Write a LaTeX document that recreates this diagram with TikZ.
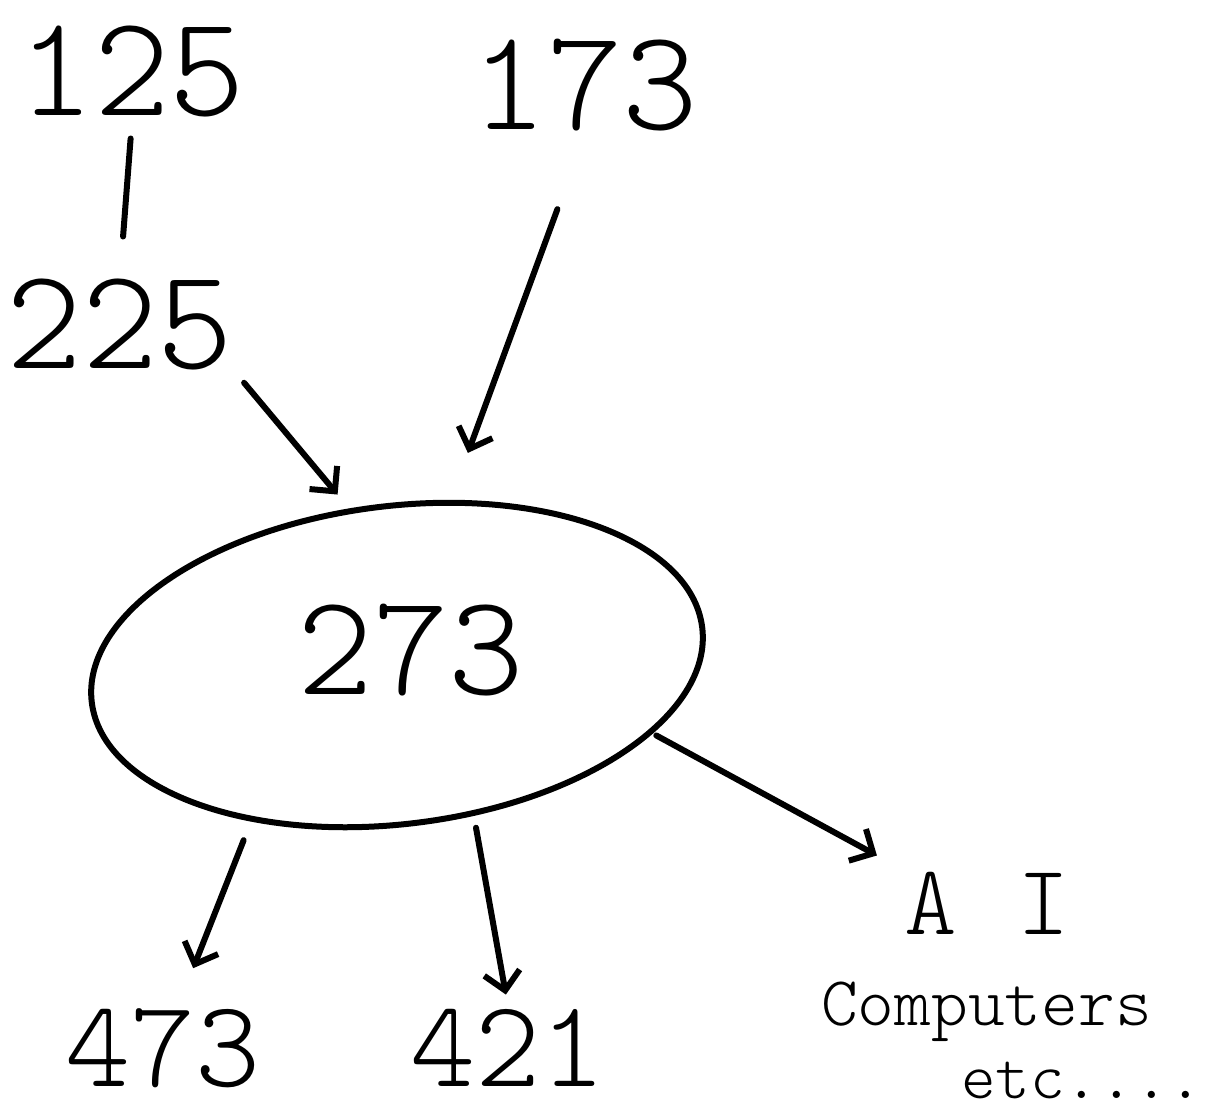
\documentclass[tikz,border=0pt]{standalone}
\usepackage{fontspec}
\newfontfamily\hand{lmmonolt10-regular.otf}
\usetikzlibrary{shapes.geometric,arrows.meta}
\begin{document}
\begin{tikzpicture}[x=0.5pt,y=-0.5pt, line width=3pt, line cap=round, line join=round,
  num/.style={font=\hand\fontsize{72}{72}\selectfont, inner sep=0pt},
  smallnum/.style={font=\hand\fontsize{62}{62}\selectfont, inner sep=0pt},
  lbl/.style={font=\hand\fontsize{35}{35}\selectfont, inner sep=0pt},
  link/.style={draw, line width=3pt},
  arr/.style={draw, line width=3pt, -{Straight Barb[length=9pt,width=18pt]}},
  blob/.style={draw, ellipse, line width=3pt, inner sep=0pt, minimum width=307.5pt, minimum height=159pt, rotate=7}]
\useasboundingbox (0,0) rectangle (1214,1119);
\fill[white] (0,0) rectangle (1214,1119);

\node[num] (n125) at (132,72) {125};
\node[num] (n173) at (585,85) {173};
\node[num] (n225) at (120,325) {225};
\node[blob] (e) at (397,665) {};
\node[num] (n273) at (411,650) {273};
\node[smallnum] (n473) at (163,1048) {473};
\node[smallnum] (n421) at (508,1048) {421};
\node[font=\hand\fontsize{50}{50}\selectfont, inner sep=0pt] (nAI) at (987,903) {A\kern30pt I};
\node[lbl, anchor=base west] (ncomp) at (818,1025) {Computers};
\node[font=\hand\fontsize{33}{33}\selectfont, inner sep=0pt, anchor=base west] (netc) at (958,1098) {etc....};

\draw[link, shorten <=9pt, shorten >=20pt] (n125.south) -- (n225.north);
\draw[arr, shorten <=6pt, shorten >=9pt] (n225.south east) -- (e.100);
\draw[arr, shorten <=40pt, shorten >=25pt] (n173.south) -- (e.65);
\draw[arr, shorten <=10pt, shorten >=20pt] (e.220) -- (n473.70);
\draw[arr, shorten <=6pt, shorten >=6pt] (e.290) -- (n421.north);
\draw[arr, shorten <=2pt, shorten >=14pt] (e.338) -- (nAI.north west);
\end{tikzpicture}
\end{document}
